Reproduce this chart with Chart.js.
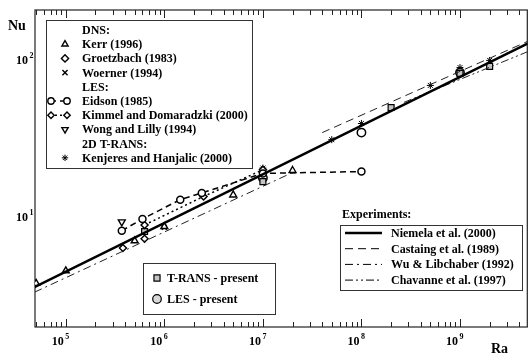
<!DOCTYPE html>
<html>
<head>
<meta charset="utf-8">
<script src="https://cdn.jsdelivr.net/npm/chart.js@4.4.1/dist/chart.umd.min.js"></script>
<style>
  html, body { margin: 0; padding: 0; background: #fff; overflow: hidden; }
  #wrap { width: 533px; height: 357px; }
</style>
</head>
<body>
<div id="wrap"><canvas id="c" width="533" height="357"></canvas></div>
<script>
// Nu vs Ra, log-log
const RA_MIN = 4.87e4, RA_MAX = 4.82e9;
const NU_MIN = 1.955, NU_MAX = 202;
const xDecades = [1e5, 1e6, 1e7, 1e8, 1e9];
const yDecades = [1e1, 1e2];

// DNS
const kerrRa = [5e4, 1e5, 5e5, 1e6, 5e6, 2e7];
const kerrNu = [3.7, 4.45, 6.9, 8.5, 13.5, 19.3];
const groetzRa = [3.8e5, 6.3e5];
const groetzNu = [6.2, 7.1];
const woernerRa = [1e6];
const woernerNu = [8.4];
// LES
const eidsonRa = [3.7e5, 6e5, 1.45e6, 2.4e6, 1e7, 1e8];
const eidsonNu = [8.0, 9.5, 12.6, 13.9, 18.5, 19.0];
const kimmelRa = [6.3e5, 2.5e6, 1e7];
const kimmelNu = [8.7, 13.2, 19.5];
const wongRa = [3.7e5];
const wongNu = [9.1];
// 2D T-RANS
const kenjRa = [1e7, 5e7, 1e8, 5e8, 1e9, 2e9];
const kenjNu = [20, 30.3, 38.4, 67, 87, 96.6];
// present work
const transRa = [6.3e5, 1e7, 2e8, 1e9, 2e9];
const transNu = [7.9, 16.4, 48.5, 79.8, 88.5];
const lesRa = [1e7, 1e8, 1e9];
const lesNu = [17.3, 33.6, 81];
// experiments (fit lines, end points)
const niemelaRa = [4.8e4, 4.9e9];
const niemelaNu = [3.5, 124];
const castaingRa = [4e7, 4.9e9];
const castaingNu = [33.6, 128];
const wuRa = [4.8e4, 2.1e7];
const wuNu = [3.25, 19.0];
const chavRa = [2.7e8, 4.9e9];
const chavNu = [52.3, 110];

const pts = (xs, ys) => xs.map((v, i) => ({ x: v, y: ys[i] }));
const FONT = "'Liberation Serif', 'DejaVu Serif', serif";

function lineSet(label, xs, ys, width, dash, color) {
  return { label, data: pts(xs, ys), showLine: true, pointRadius: 0,
    borderColor: color || '#000', borderWidth: width, borderDash: dash || [] };
}
function markSet(label, xs, ys, style, opts) {
  return Object.assign({ label, data: pts(xs, ys), pointStyle: style, pointRadius: 4,
    borderColor: '#000', backgroundColor: '#fff', borderWidth: 1.4 }, opts || {});
}

const datasets = [
  lineSet('Niemela et al. (2000)', niemelaRa, niemelaNu, 2.6),
  lineSet('Castaing et al. (1989)', castaingRa, castaingNu, 1, [8, 5], '#222'),
  lineSet('Wu & Libchaber (1992)', wuRa, wuNu, 1, [8, 4, 2, 4], '#222'),
  lineSet('Chavanne et al. (1997)', chavRa, chavNu, 1, [8, 3, 2, 3, 2, 3], '#222'),
  markSet('Eidson (1985)', eidsonRa, eidsonNu, 'circle',
    { showLine: true, borderDash: [6, 4], pointRadius: 3.5, borderWidth: 1.5 }),
  markSet('Kimmel and Domaradzki (2000)', kimmelRa, kimmelNu, 'rectRot',
    { showLine: true, borderDash: [2, 3], pointRadius: 3.5, borderWidth: 1.5 }),
  markSet('Kerr (1996)', kerrRa, kerrNu, 'triangle'),
  markSet('Groetzbach (1983)', groetzRa, groetzNu, 'rectRot', { pointRadius: 3.5 }),
  markSet('Woerner (1994)', woernerRa, woernerNu, 'crossRot', { pointRadius: 3.5 }),
  markSet('Wong and Lilly (1994)', wongRa, wongNu, 'triangle', { rotation: 180 }),
  markSet('Kenjeres and Hanjalic (2000)', kenjRa, kenjNu, 'star', { pointRadius: 3.5, borderWidth: 1 }),
  markSet('T-RANS - present', transRa, transNu, 'rect', { backgroundColor: '#c4c4c4', pointRadius: 4.2, borderWidth: 1.2 }),
  markSet('LES - present', lesRa, lesNu, 'circle', { backgroundColor: 'rgba(255,255,255,0)', pointRadius: 4.2, borderWidth: 1.5 })
];

function seg(ctx, x1, y1, x2, y2) {
  ctx.beginPath(); ctx.moveTo(x1, y1); ctx.lineTo(x2, y2); ctx.stroke();
}
function pow10(ctx, xRight, base, exp) {
  ctx.font = 'bold 12px ' + FONT;
  ctx.textAlign = 'right'; ctx.textBaseline = 'alphabetic';
  ctx.fillText('10', xRight, base);
  ctx.font = 'bold 8px ' + FONT;
  ctx.textAlign = 'left';
  ctx.fillText(String(exp), xRight + 1.5, base - 6);
}
function marker(ctx, style, x, y, r, fill, lw, rotation) {
  ctx.save();
  ctx.fillStyle = fill; ctx.strokeStyle = '#000'; ctx.lineWidth = lw;
  Chart.helpers.drawPoint(ctx, { pointStyle: style, radius: r, borderWidth: lw, rotation: rotation || 0 }, x, y);
  ctx.restore();
}

const frame = {
  id: 'frame',
  beforeDatasetsDraw(chart) {
    const { ctx, chartArea: a, scales: { x, y } } = chart;
    ctx.save();
    ctx.strokeStyle = '#222'; ctx.lineWidth = 1.2;
    ctx.strokeRect(a.left, a.top, a.right - a.left, a.bottom - a.top);
    ctx.lineWidth = 1;
    for (let d = 1e4; d <= 1e10; d *= 10) {
      for (let k = 1; k <= 9; k++) {
        const v = d * k;
        if (v > RA_MIN && v < RA_MAX) {
          const px = Math.round(x.getPixelForValue(v)) + 0.5, len = k === 1 ? 8 : 5;
          seg(ctx, px, a.bottom, px, a.bottom - len);
          seg(ctx, px, a.top, px, a.top + len);
        }
        if (v > NU_MIN && v < NU_MAX) {
          const py = Math.round(y.getPixelForValue(v)) + 0.5, len = k === 1 ? 8 : 5;
          seg(ctx, a.left, py, a.left + len, py);
          seg(ctx, a.right, py, a.right - len, py);
        }
      }
    }
    ctx.restore();
  },
  afterDraw(chart) {
    const { ctx, scales: { x, y } } = chart;
    ctx.save();
    ctx.fillStyle = '#000';
    xDecades.forEach(v => pow10(ctx, x.getPixelForValue(v) - 2, 345, Math.round(Math.log10(v))));
    yDecades.forEach(v => pow10(ctx, 28, y.getPixelForValue(v) + 6, Math.round(Math.log10(v))));
    ctx.font = 'bold 14px ' + FONT; ctx.textAlign = 'left';
    ctx.fillText('Nu', 8, 30);
    ctx.fillText('Ra', 491, 353);

    // legend: simulations
    ctx.strokeStyle = '#333'; ctx.lineWidth = 1;
    ctx.strokeRect(46.5, 20.5, 206, 148);
    const rows = [
      ['DNS:'], ['Kerr (1996)', 'triangle'], ['Groetzbach (1983)', 'rectRot'], ['Woerner (1994)', 'crossRot'],
      ['LES:'], ['Eidson (1985)', 'circle', [6, 4]], ['Kimmel and Domaradzki (2000)', 'rectRot', [2, 3]],
      ['Wong and Lilly (1994)', 'triangle', null, 180], ['2D T-RANS:'], ['Kenjeres and Hanjalic (2000)', 'star']
    ];
    rows.forEach((r, i) => {
      const cy = 30 + i * 14.2;
      ctx.fillStyle = '#000';
      ctx.font = 'bold 12px ' + FONT; ctx.textAlign = 'left'; ctx.textBaseline = 'middle';
      ctx.fillText(r[0], 82, cy + 1);
      if (!r[1]) return;
      if (r[2]) {
        ctx.save(); ctx.setLineDash(r[2]); ctx.lineWidth = 1.5; ctx.strokeStyle = '#000';
        seg(ctx, 50, cy, 67, cy); ctx.restore();
        marker(ctx, r[1], 51, cy, 3.2, '#fff', 1.4);
        marker(ctx, r[1], 67, cy, 3.2, '#fff', 1.4);
      } else {
        marker(ctx, r[1], 65, cy, r[1] === 'star' ? 3.2 : 3.6, '#fff', r[1] === 'star' ? 1 : 1.4, r[3]);
      }
    });

    // legend: experiments
    ctx.fillStyle = '#000'; ctx.textBaseline = 'middle';
    ctx.fillText('Experiments:', 342, 215);
    ctx.strokeStyle = '#333'; ctx.lineWidth = 1;
    ctx.strokeRect(340.5, 225.5, 182, 65);
    const exps = [
      ['Niemela et al. (2000)', [], 2.6],
      ['Castaing et al. (1989)', [8, 5], 1],
      ['Wu & Libchaber (1992)', [8, 4, 2, 4], 1],
      ['Chavanne et al. (1997)', [8, 3, 2, 3, 2, 3], 1]
    ];
    exps.forEach((e, i) => {
      const cy = 233 + i * 15.7;
      ctx.save(); ctx.setLineDash(e[1]); ctx.lineWidth = e[2]; ctx.strokeStyle = '#000';
      seg(ctx, 345, cy, 382, cy); ctx.restore();
      ctx.fillText(e[0], 391, cy + 1);
    });

    // legend: present
    ctx.strokeStyle = '#333'; ctx.lineWidth = 1;
    ctx.strokeRect(143.5, 263.5, 132, 51);
    marker(ctx, 'rect', 157, 278, 4.3, '#c4c4c4', 1.2);
    marker(ctx, 'circle', 157, 299, 4.3, '#d8d8d8', 1.2);
    ctx.fillStyle = '#000';
    ctx.fillText('T-RANS - present', 167, 279);
    ctx.fillText('LES - present', 167, 300);
    ctx.restore();
  }
};

new Chart(document.getElementById('c'), {
  type: 'scatter',
  data: { datasets },
  options: {
    responsive: false,
    animation: false,
    devicePixelRatio: 1,
    layout: { padding: { left: 35, right: 2, top: 10, bottom: 30 } },
    scales: {
      x: { type: 'logarithmic', min: RA_MIN, max: RA_MAX, display: false },
      y: { type: 'logarithmic', min: NU_MIN, max: NU_MAX, display: false }
    },
    plugins: { legend: { display: false }, tooltip: { enabled: false } }
  },
  plugins: [frame]
});
</script>
</body>
</html>
